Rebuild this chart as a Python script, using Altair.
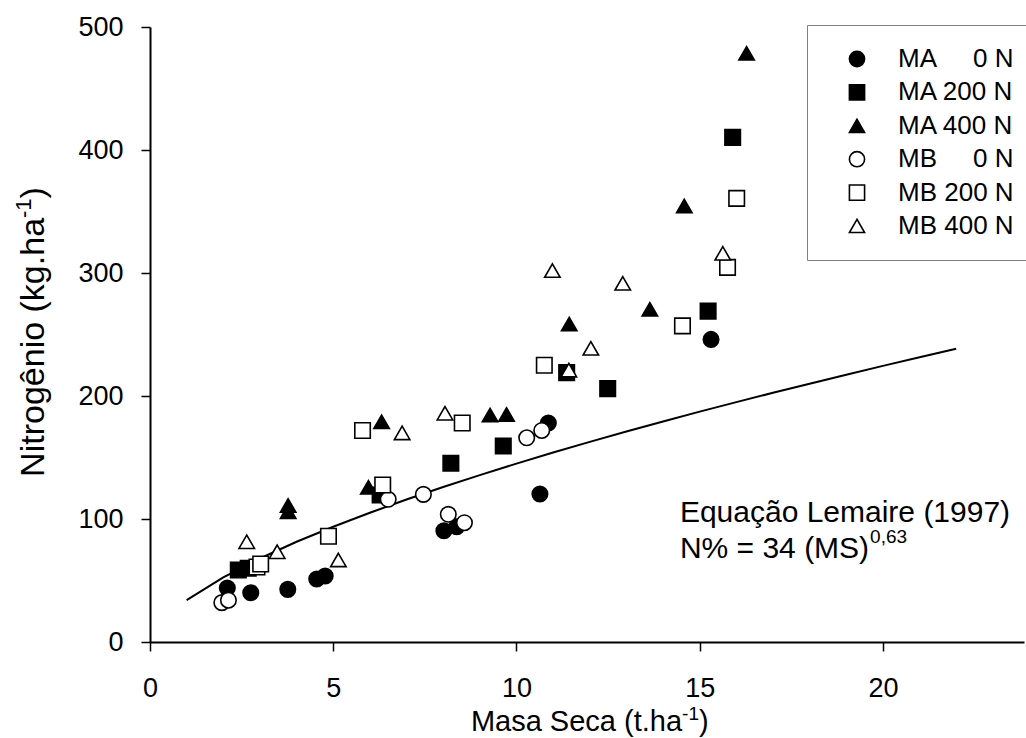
import altair as alt
import pandas as pd

FONT = "Liberation Sans"
NB = "\u00a0"

# ---- data ----
series_names = [
    "MA" + NB * 5 + "0 N",
    "MA 200 N",
    "MA 400 N",
    "MB" + NB * 5 + "0 N",
    "MB 200 N",
    "MB 400 N",
]
series_shapes = ["circle", "square", "triangle-up", "circle", "square", "triangle-up"]
series_fills = ["black", "black", "black", "white", "white", "white"]
series_strokes = ["black"] * 6

ma0_x = [2.11, 2.75, 3.76, 4.55, 4.78, 8.02, 8.37, 10.64, 10.87, 15.31]
ma0_y = [43.9, 40.0, 42.8, 51.2, 53.7, 90.5, 93.7, 120.3, 178.0, 246.0]
ma200_x = [2.41, 2.68, 6.28, 8.21, 9.64, 11.37, 12.49, 15.23, 15.90]
ma200_y = [58.5, 60.0, 119.5, 145.3, 159.3, 219.0, 206.0, 269.0, 410.3]
ma400_x = [3.77, 3.77, 5.96, 6.32, 9.28, 9.73, 11.44, 13.64, 14.58, 16.28]
ma400_y = [111.0, 106.0, 125.8, 179.0, 184.5, 185.0, 258.5, 270.5, 354.5, 478.6]
mb0_x = [1.96, 2.14, 6.50, 7.46, 8.14, 8.58, 10.28, 10.69]
mb0_y = [32.0, 34.0, 116.0, 120.0, 103.8, 97.0, 166.0, 172.0]
mb200_x = [2.92, 3.02, 4.87, 5.80, 6.35, 8.52, 10.76, 14.53, 15.76, 16.01]
mb200_y = [61.0, 63.4, 86.0, 172.0, 127.6, 178.0, 225.0, 257.0, 304.6, 360.7]
mb400_x = [2.64, 3.47, 5.14, 6.88, 8.05, 10.98, 11.43, 12.03, 12.90, 15.63]
mb400_y = [81.5, 73.4, 66.7, 170.0, 186.0, 302.0, 221.0, 238.8, 291.6, 316.0]

# Lemaire curve as drawn (N = 34 * MS^0.63), read at integer MS
curve_x = [1, 2, 3, 4, 5, 6, 7, 8, 9, 10, 11, 12, 13, 14, 15, 16, 17, 18, 19, 20, 21, 22]
curve_y = [34.0, 52.6, 67.9, 81.5, 93.7, 105.1, 115.8, 126.0, 135.7, 145.0, 154.0,
           162.7, 171.1, 179.3, 187.3, 195.0, 202.6, 210.0, 217.3, 224.5, 231.5, 238.4]

x_ticks = [0, 5, 10, 15, 20]
y_ticks = [0, 100, 200, 300, 400, 500]

# ---- tables ----
all_x = [ma0_x, ma200_x, ma400_x, mb0_x, mb200_x, mb400_x]
all_y = [ma0_y, ma200_y, ma400_y, mb0_y, mb200_y, mb400_y]
rows = []
for name, xs, ys in zip(series_names, all_x, all_y):
    for xv, yv in zip(xs, ys):
        rows.append({"ms": xv, "n": yv, "series": name})
pts = pd.DataFrame(rows)
curve = pd.DataFrame({"ms": curve_x, "n": curve_y})
one = pd.DataFrame({"ms": [0], "n": [0]})

W, H = 874, 615
xscale = alt.Scale(domain=[0, 23.85], nice=False, zero=False)
yscale = alt.Scale(domain=[0, 500], nice=False)

legend = alt.Legend(
    orient="none", legendX=657, legendY=-2, padding=21, symbolOffset=16,
    labelOffset=28, labelFont=FONT, labelFontSize=26, labelColor="black",
    strokeColor="#808080", fillColor="white", symbolSize=230,
    symbolStrokeColor="black", symbolStrokeWidth=1.6, rowPadding=7.4,
    labelLimit=400, title=None,
)

points = alt.Chart(pts).mark_point(
    filled=True, size=240, strokeWidth=1.6, opacity=1
).encode(
    x=alt.X("ms:Q", scale=xscale,
            axis=alt.Axis(values=x_ticks, title=None, labelFlush=False, labelPadding=24)),
    y=alt.Y("n:Q", scale=yscale,
            axis=alt.Axis(values=y_ticks, title=None, labelPadding=18)),
    shape=alt.Shape("series:N", scale=alt.Scale(domain=series_names, range=series_shapes),
                    legend=legend),
    fill=alt.Fill("series:N", scale=alt.Scale(domain=series_names, range=series_fills),
                  legend=legend),
    stroke=alt.Stroke("series:N", scale=alt.Scale(domain=series_names, range=series_strokes),
                      legend=legend),
)

line = alt.Chart(curve).mark_line(color="black", strokeWidth=2).encode(
    x=alt.X("ms:Q", scale=xscale), y=alt.Y("n:Q", scale=yscale)
)

# annotation (data coordinates)
ann_x = 14.46
ann_fs = 30
ann1 = alt.Chart(pd.DataFrame({"ms": [ann_x], "n": [97.6]})).mark_text(
    text="Equação Lemaire (1997)", font=FONT, fontSize=ann_fs, align="left",
    baseline="alphabetic", color="black"
).encode(x="ms:Q", y="n:Q")
ann2 = alt.Chart(pd.DataFrame({"ms": [ann_x], "n": [68.3]})).mark_text(
    text="N% = 34 (MS)", font=FONT, fontSize=ann_fs, align="left",
    baseline="alphabetic", color="black"
).encode(x="ms:Q", y="n:Q")
ann3 = alt.Chart(pd.DataFrame({"ms": [ann_x], "n": [80.5]})).mark_text(
    text="0,63", font=FONT, fontSize=19, align="left", dx=6.307 * ann_fs + 1,
    baseline="alphabetic", color="black"
).encode(x="ms:Q", y="n:Q")

# x-axis title with superscript
xfs, xsfs = 29, 19
xt_main_w = 7.281 * xfs
xt_sup_w = 0.889 * xsfs
xt_total = xt_main_w + xt_sup_w + 0.333 * xfs
xt_left = 12 * W / 23.85 - xt_total / 2
xt_base = 704
xt1 = alt.Chart(one).mark_text(text="Masa Seca (t.ha", font=FONT, fontSize=xfs,
                               align="left", baseline="alphabetic", color="black"
                               ).encode(x=alt.value(xt_left), y=alt.value(xt_base))
xt2 = alt.Chart(one).mark_text(text="-1", font=FONT, fontSize=xsfs,
                               align="left", baseline="alphabetic", color="black"
                               ).encode(x=alt.value(xt_left + xt_main_w), y=alt.value(xt_base - 11))
xt3 = alt.Chart(one).mark_text(text=")", font=FONT, fontSize=xfs,
                               align="left", baseline="alphabetic", color="black"
                               ).encode(x=alt.value(xt_left + xt_main_w + xt_sup_w), y=alt.value(xt_base))

# y-axis title with superscript (rotated)
yfs, ysfs = 34, 22
yt_main_w = 7.614 * yfs
yt_sup_w = 0.889 * ysfs
yt_total = yt_main_w + yt_sup_w + 0.333 * yfs
yt_start = 305 + yt_total / 2
yt_x = -106
yt1 = alt.Chart(one).mark_text(text="Nitrogênio (kg.ha", font=FONT, fontSize=yfs, angle=270,
                               align="left", baseline="alphabetic", color="black"
                               ).encode(x=alt.value(yt_x), y=alt.value(yt_start))
yt2 = alt.Chart(one).mark_text(text="-1", font=FONT, fontSize=ysfs, angle=270,
                               align="left", baseline="alphabetic", color="black",
                               dx=yt_main_w, dy=-13
                               ).encode(x=alt.value(yt_x), y=alt.value(yt_start))
yt3 = alt.Chart(one).mark_text(text=")", font=FONT, fontSize=yfs, angle=270,
                               align="left", baseline="alphabetic", color="black",
                               dx=yt_main_w + yt_sup_w
                               ).encode(x=alt.value(yt_x), y=alt.value(yt_start))

chart = alt.layer(
    line, points, ann1, ann2, ann3, xt1, xt2, xt3, yt1, yt2, yt3
).properties(
    width=W, height=H,
    padding={"left": 150, "top": 27, "right": 2, "bottom": 95},
    autosize=alt.AutoSizeParams(type="none"),
    background="white",
).configure_axis(
    domainColor="black", domainWidth=2, tickColor="black", tickWidth=1.5, tickSize=9,
    labelFont=FONT, labelFontSize=27, labelColor="black", grid=False,
).configure_view(stroke="transparent")

chart.save("out.html", embed_options={"renderer": "svg", "actions": False})
